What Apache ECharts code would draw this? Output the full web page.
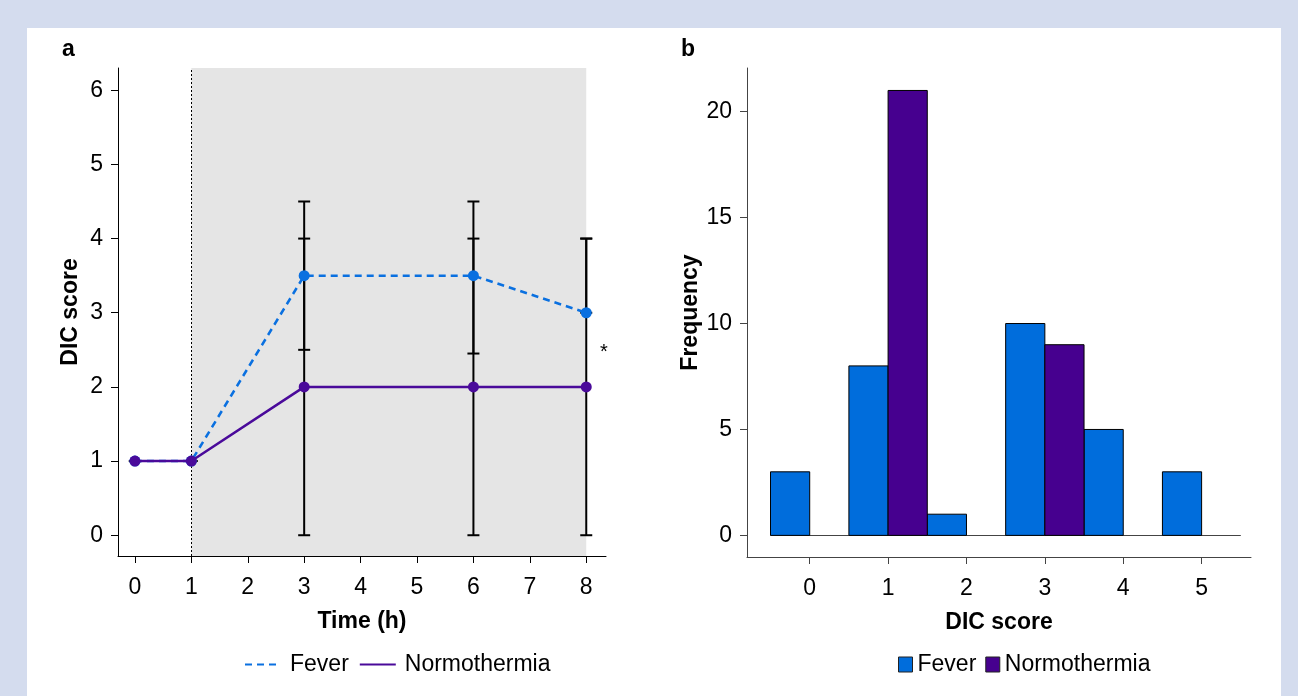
<!DOCTYPE html>
<html>
<head>
<meta charset="utf-8">
<script src="https://cdn.jsdelivr.net/npm/echarts@6/dist/echarts.min.js"></script>
<style>
  html, body { margin: 0; padding: 0; background: #d4dcee; }
  .panel { position: absolute; left: 27px; top: 28px; width: 1254px; height: 668px; background: #fff; }
  #main { position: absolute; left: 0; top: 0; width: 1298px; height: 696px; }
</style>
</head>
<body>
<div class="panel"></div>
<div id="main"></div>
<script>
// panel a: DIC score over time
var timeTicks = [0, 1, 2, 3, 4, 5, 6, 7, 8];
var scoreTicks = [0, 1, 2, 3, 4, 5, 6];
var hours = [0, 1, 3, 6, 8];
var feverScore = [1, 1, 3.5, 3.5, 3];
var normoScore = [1, 1, 2, 2, 2];
// error bars [low, high]
var feverLow = [1, 1, 2.5, 2.45, 3];
var feverHigh = [1, 1, 4.5, 4.5, 4];
var normoLow = [1, 1, 0, 0, 0];
var normoHigh = [1, 1, 4, 4, 4];

// panel b: histogram
var dicScores = [0, 1, 2, 3, 4, 5];
var feverFreq = [3, 8, 1, 10, 5, 3];
var normoFreq = [0, 21, 0, 9, 0, 0];
var freqTicks = [0, 5, 10, 15, 20];

var FONT = "'Liberation Sans', Arial, sans-serif";
var BLUE = "#0a70e0";
var PURPLE = "#4a0a9a";
var BAR_BLUE = "#006ddc";
var BAR_PURPLE = "#46008f";

function pairs(xs, ys) {
  return xs.map(function (x, i) { return [x, ys[i]]; });
}
function triples(xs, lo, hi) {
  return xs.map(function (x, i) { return [x, lo[i], hi[i]]; });
}

function errorBar(params, api) {
  var x = api.value(0);
  var lo = api.coord([x, api.value(1)]);
  var hi = api.coord([x, api.value(2)]);
  var w = 6;
  var st = { stroke: "#000", lineWidth: 2 };
  return {
    type: "group",
    children: [
      { type: "line", shape: { x1: lo[0], y1: lo[1], x2: hi[0], y2: hi[1] }, style: st },
      { type: "line", shape: { x1: lo[0] - w, y1: lo[1], x2: lo[0] + w, y2: lo[1] }, style: st },
      { type: "line", shape: { x1: hi[0] - w, y1: hi[1], x2: hi[0] + w, y2: hi[1] }, style: st },
    ],
  };
}

function histBar(side) {
  return function (params, api) {
    var s = api.value(0);
    var n = api.value(1);
    if (!n) return null;
    var x0 = side < 0 ? s - 0.5 : s;
    var p0 = api.coord([x0, n]);
    var p1 = api.coord([x0 + 0.5, 0]);
    return {
      type: "rect",
      shape: { x: p0[0], y: p0[1], width: p1[0] - p0[0], height: p1[1] - p0[1] },
      style: api.style({ stroke: "#000", lineWidth: 1 }),
    };
  };
}

var axisText = { fontFamily: FONT, fontSize: 23, color: "#000" };
var nameText = { fontFamily: FONT, fontSize: 23, fontWeight: "bold", color: "#000" };

var chart = echarts.init(document.getElementById("main"));
var option = {
  animation: false,
  textStyle: { fontFamily: FONT },
  graphic: [
    { type: "text", left: 62, top: 38, style: { text: "a", font: "bold 23px " + FONT, fill: "#000" } },
    { type: "text", left: 681, top: 38, style: { text: "b", font: "bold 23px " + FONT, fill: "#000" } },
    { type: "text", left: 600, top: 342, style: { text: "*", font: "20px " + FONT, fill: "#000" } },
  ],
  grid: [
    { left: 118, top: 68, width: 488, height: 488 },
    { left: 747, top: 68, width: 504, height: 489 },
  ],
  xAxis: [
    {
      gridIndex: 0, type: "value", min: -0.3, max: 8.35,
      name: "Time (h)", nameLocation: "middle", nameGap: 54, nameTextStyle: nameText,
      axisLine: { show: true, onZero: false, lineStyle: { color: "#000", width: 1 } },
      axisTick: { show: true, length: 7, customValues: timeTicks, lineStyle: { color: "#000" } },
      axisLabel: Object.assign({ margin: 20, customValues: timeTicks }, axisText),
      splitLine: { show: false },
    },
    {
      gridIndex: 1, type: "value", min: -0.8, max: 5.63,
      name: "DIC score", nameLocation: "middle", nameGap: 54, nameTextStyle: nameText,
      axisLine: { show: true, onZero: false, lineStyle: { color: "#444", width: 1 } },
      axisTick: { show: true, length: 7, customValues: dicScores, lineStyle: { color: "#444" } },
      axisLabel: Object.assign({ margin: 20, customValues: dicScores }, axisText),
      splitLine: { show: false },
    },
  ],
  yAxis: [
    {
      gridIndex: 0, type: "value", min: -0.28, max: 6.3,
      name: "DIC score", nameLocation: "middle", nameGap: 36, nameTextStyle: nameText,
      axisLine: { show: true, onZero: false, lineStyle: { color: "#000", width: 1 } },
      axisTick: { show: true, length: 7, customValues: scoreTicks, lineStyle: { color: "#000" } },
      axisLabel: Object.assign({ margin: 15, customValues: scoreTicks }, axisText),
      splitLine: { show: false },
    },
    {
      gridIndex: 1, type: "value", min: -1.02, max: 22.06,
      name: "Frequency", nameLocation: "middle", nameGap: 45, nameTextStyle: nameText,
      axisLine: { show: true, onZero: false, lineStyle: { color: "#444", width: 1 } },
      axisTick: { show: true, length: 7, customValues: freqTicks, lineStyle: { color: "#444" } },
      axisLabel: Object.assign({ margin: 15, customValues: freqTicks }, axisText),
      splitLine: { show: false },
    },
  ],
  legend: [
    {
      left: 239, top: 648, itemWidth: 36, itemHeight: 14, itemGap: 10,
      data: ["Fever", "Normothermia"],
      itemStyle: { opacity: 0 },
      textStyle: { fontFamily: FONT, fontSize: 23, color: "#000", padding: [0, 0, 0, 4] },
      selectedMode: false,
    },
    {
      left: 893, top: 648, itemWidth: 14, itemHeight: 15, itemGap: 9,
      data: [
        { name: "Fever", icon: "rect", itemStyle: { color: BAR_BLUE, borderColor: "#222", borderWidth: 1, opacity: 1 } },
        { name: "Normothermia", icon: "rect", itemStyle: { color: BAR_PURPLE, borderColor: "#222", borderWidth: 1, opacity: 1 } },
      ],
      textStyle: { fontFamily: FONT, fontSize: 23, color: "#000" },
      selectedMode: false,
    },
  ],
  series: [
    {
      name: "Fever", type: "line", xAxisIndex: 0, yAxisIndex: 0, z: 3,
      data: pairs(hours, feverScore),
      symbol: "circle", symbolSize: 11,
      lineStyle: { color: BLUE, width: 2.5, type: [7, 5] },
      itemStyle: { color: BLUE },
      markArea: {
        silent: true, z: 1,
        itemStyle: { color: "#e5e5e5" },
        data: [[{ xAxis: 1 }, { xAxis: 8 }]],
      },
      markLine: {
        silent: true, z: 1, symbol: "none",
        label: { show: false },
        lineStyle: { color: "#000", width: 1, type: [2, 2] },
        data: [{ xAxis: 1 }],
      },
    },
    {
      name: "Normothermia", type: "line", xAxisIndex: 0, yAxisIndex: 0, z: 4,
      data: pairs(hours, normoScore),
      symbol: "circle", symbolSize: 11,
      lineStyle: { color: PURPLE, width: 2.5 },
      itemStyle: { color: PURPLE },
    },
    {
      name: "Fever range", type: "custom", xAxisIndex: 0, yAxisIndex: 0, z: 2,
      renderItem: errorBar, data: triples(hours, feverLow, feverHigh),
    },
    {
      name: "Normothermia range", type: "custom", xAxisIndex: 0, yAxisIndex: 0, z: 2,
      renderItem: errorBar, data: triples(hours, normoLow, normoHigh),
    },
    {
      name: "Fever", type: "custom", xAxisIndex: 1, yAxisIndex: 1, z: 2,
      renderItem: histBar(-1), data: pairs(dicScores, feverFreq),
      itemStyle: { color: BAR_BLUE },
      markLine: {
        silent: true, symbol: "none", z: 1,
        label: { show: false },
        lineStyle: { color: "#444", width: 1, type: "solid" },
        data: [[{ coord: [-0.5, 0] }, { coord: [5.5, 0] }]],
      },
    },
    {
      name: "Normothermia", type: "custom", xAxisIndex: 1, yAxisIndex: 1, z: 2,
      renderItem: histBar(1), data: pairs(dicScores, normoFreq),
      itemStyle: { color: BAR_PURPLE },
    },
  ],
};
chart.setOption(option);
</script>
</body>
</html>
